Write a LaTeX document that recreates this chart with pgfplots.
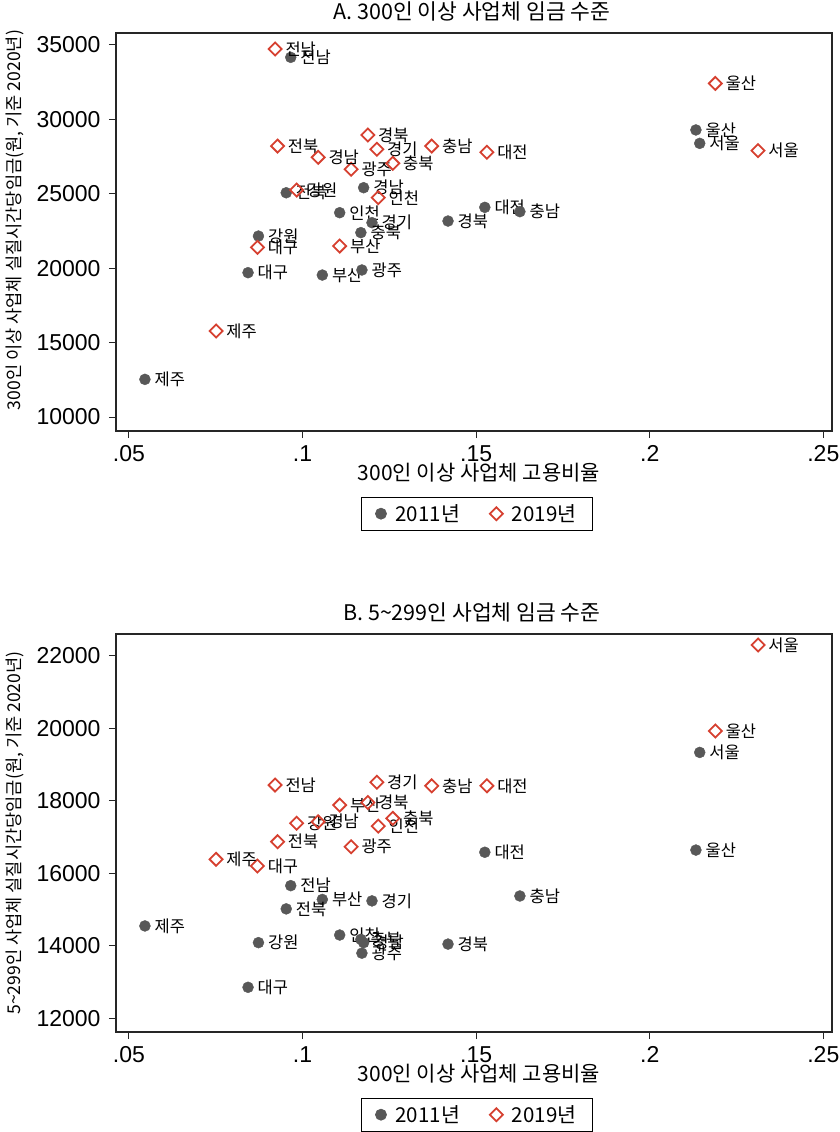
\documentclass[border=0pt]{standalone}
\usepackage{pgfplots}
\pgfplotsset{compat=1.18}
\usepackage{pgfplotstable}
\usepackage{fontspec}
\setmainfont{Noto Sans CJK KR}
\newfontfamily\lib{Liberation Sans}
\definecolor{dotgray}{RGB}{88,88,88}
\definecolor{dred}{RGB}{214,64,48}

% Panel A: 300+ firms
\pgfplotstableread{
x y name
0.2144 28390 서울
0.1057 19540 부산
0.0843 19700 대구
0.1107 23730 인천
0.1171 19880 광주
0.1525 24090 대전
0.2133 29290 울산
0.1200 23060 경기
0.0873 22160 강원
0.1168 22390 충북
0.1626 23800 충남
0.0953 25070 전북
0.0966 34170 전남
0.1419 23170 경북
0.1176 25410 경남
0.0546 12530 제주
}\aOne
\pgfplotstableread{
x y name
0.2312 27900 서울
0.1107 21490 부산
0.0870 21400 대구
0.1218 24740 인천
0.1140 26650 광주
0.1531 27790 대전
0.2189 32420 울산
0.1214 27990 경기
0.0983 25250 강원
0.1260 27050 충북
0.1372 28210 충남
0.0928 28210 전북
0.0921 34730 전남
0.1188 28950 경북
0.1045 27450 경남
0.0751 15780 제주
}\aTwo
% Panel B: 5-299 firms
\pgfplotstableread{
x y name
0.2144 19330 서울
0.1057 15280 부산
0.0843 12860 대구
0.1107 14300 인천
0.1171 13800 광주
0.1525 16580 대전
0.2133 16640 울산
0.1200 15240 경기
0.0873 14090 강원
0.1168 14180 충북
0.1626 15375 충남
0.0953 15020 전북
0.0966 15660 전남
0.1419 14050 경북
0.1176 14090 경남
0.0546 14550 제주
}\bOne
\pgfplotstableread{
x y name
0.2312 22290 서울
0.1107 17880 부산
0.0870 16200 대구
0.1218 17300 인천
0.1140 16730 광주
0.1531 18410 대전
0.2189 19920 울산
0.1214 18510 경기
0.0983 17380 강원
0.1260 17515 충북
0.1372 18410 충남
0.0928 16870 전북
0.0921 18430 전남
0.1188 17950 경북
0.1045 17420 경남
0.0751 16385 제주
}\bTwo

\pgfplotsset{
  panel/.style={
    scale only axis, width=716pt, height=398pt,
    xmin=0.04627, xmax=0.2525,
    xtick={0.05,0.1,0.15,0.2,0.25},
    xticklabels={.05,.1,.15,.2,.25},
    scaled y ticks=false, scaled x ticks=false,
    tick align=outside, xtick pos=left, ytick pos=left,
    major tick length=7pt,
    axis line style={line width=1.2pt, black!85},
    every tick/.style={line width=1pt, black!85},
    tick label style={font=\lib\fontsize{23}{23}\selectfont},
    xticklabel style={yshift=-4pt},
    yticklabel style={xshift=-5pt},
    clip=false,
    xlabel={300인 이상 사업체 고용비율},
    xlabel style={font=\fontsize{21}{21}\selectfont, at={(axis description cs:0.507,-0.1055)}, anchor=center},
    ylabel style={font=\fontsize{17.6}{17.6}\selectfont, rotate=0, anchor=center},
    title style={font=\fontsize{21.5}{21.5}\selectfont, at={(axis description cs:0.497,1.04)}, anchor=center},
    legend style={at={(axis description cs:0.504,-0.166)}, anchor=north, draw=black, line width=0.8pt,
      font=\fontsize{20.5}{20.5}\selectfont, legend columns=2, inner xsep=14pt, inner ysep=5pt,
      /tikz/every odd column/.append style={column sep=7pt},
      /tikz/every even column/.append style={column sep=28pt}},
  },
  dots/.style={only marks, mark=*, mark size=5.5pt, draw=dotgray, fill=dotgray,
    point meta=explicit symbolic, nodes near coords,
    nodes near coords style={anchor=west, xshift=9.5pt, inner sep=0pt, font=\fontsize{16.5}{16.5}\selectfont, text=black}},
  dias/.style={only marks, mark=square, mark size=4.6pt, mark options={rotate=45, draw=dred, line width=1.8pt, fill=none},
    point meta=explicit symbolic, nodes near coords,
    nodes near coords style={anchor=west, xshift=9.5pt, inner sep=0pt, font=\fontsize{16.5}{16.5}\selectfont, text=black}},
}

\begin{document}
\begin{tikzpicture}
\path[use as bounding box] (0pt,0pt) rectangle (839pt,-1132pt);

\begin{axis}[panel, at={(116pt,-33pt)}, anchor=north west,
  ymin=9060, ymax=35806,
  ytick={10000,15000,20000,25000,30000,35000},
  yticklabels={10000,15000,20000,25000,30000,35000},
  title={A. 300인 이상 사업체 임금 수준},
  ylabel={300인 이상 사업체 실질시간당임금(원, 기준 2020년)},
  ylabel style={at={(axis description cs:-0.141,0.53)}, rotate=0}]
\addplot[dots] table[x=x, y=y, meta=name]{\aOne};
\addplot[dias] table[x=x, y=y, meta=name]{\aTwo};
\legend{2011년, 2019년}
\end{axis}

\begin{axis}[panel, at={(116pt,-634pt)}, anchor=north west,
  ymin=11628, ymax=22592,
  ytick={12000,14000,16000,18000,20000,22000},
  yticklabels={12000,14000,16000,18000,20000,22000},
  title={B. 5\textasciitilde 299인 사업체 임금 수준},
  ylabel={5\textasciitilde 299인 사업체 실질시간당임금(원, 기준 2020년)},
  ylabel style={at={(axis description cs:-0.141,0.5)}, rotate=0}]
\addplot[dots] table[x=x, y=y, meta=name]{\bOne};
\addplot[dias] table[x=x, y=y, meta=name]{\bTwo};
\legend{2011년, 2019년}
\end{axis}
\end{tikzpicture}
\end{document}
